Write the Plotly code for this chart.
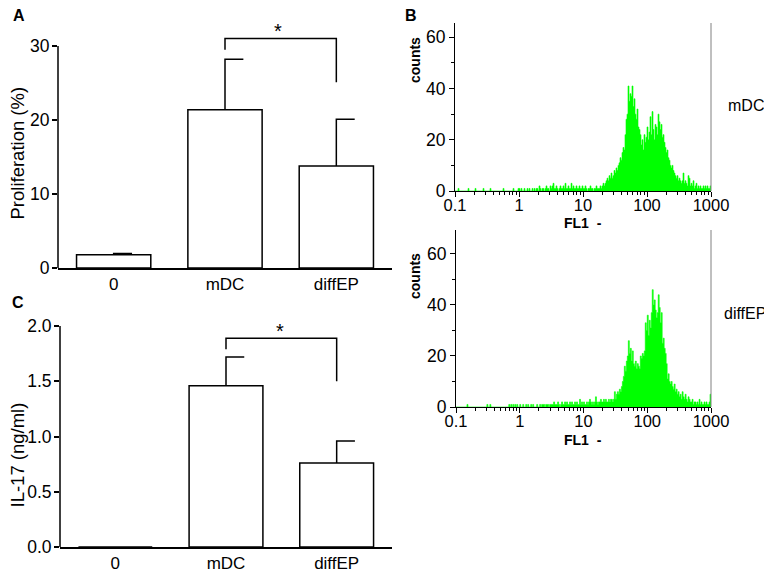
import plotly.graph_objects as go

W, H = 772, 574
PAGE_MARGIN = 8  # the page body offsets the figure by this many pixels
FONT = "Arial, Liberation Sans, sans-serif"
BLACK = "#000000"
GREEN = "#00ff00"

# ── bar panels (A, C) ──
groups = ["0", "mDC", "diffEP"]
prolif_mean = [1.8, 21.4, 13.8]
prolif_err = [0.15, 6.8, 6.3]
il17_mean = [0.0, 1.46, 0.76]
il17_err = [0.0, 0.26, 0.20]

# ── FL1 histograms (B), 256 log channels from 0.1 to 1000 ──
hist_mdc = [
    0, 0, 0, 1, 0, 0, 0, 0, 0, 0, 0, 0, 0, 1, 0, 0,
    0, 0, 0, 0, 1, 0, 0, 0, 0, 0, 0, 0, 1, 0, 0, 0,
    0, 0, 0, 1, 0, 0, 0, 0, 0, 0, 0, 0, 0, 0, 0, 0,
    1, 0, 0, 0, 0, 0, 0, 0, 0, 0, 1, 0, 0, 0, 0, 1,
    1, 0, 1, 0, 0, 1, 0, 0, 1, 0, 1, 0, 0, 1, 0, 1,
    0, 1, 1, 0, 2, 1, 0, 1, 1, 0, 1, 2, 1, 1, 0, 2,
    1, 2, 3, 1, 1, 2, 1, 0, 1, 2, 1, 1, 2, 1, 3, 1,
    1, 2, 1, 1, 3, 1, 2, 1, 1, 2, 1, 1, 2, 1, 1, 2,
    1, 1, 2, 1, 0, 1, 1, 2, 1, 1, 0, 1, 1, 2, 1, 1,
    1, 2, 1, 2, 3, 2, 3, 4, 5, 4, 6, 5, 7, 5, 6, 8,
    7, 9, 8, 10, 11, 13, 12, 15, 17, 16, 22, 28, 30, 41, 35, 38,
    37, 41, 33, 36, 30, 28, 32, 25, 24, 22, 18, 20, 16, 22, 19, 21,
    25, 20, 23, 29, 22, 31, 24, 20, 26, 25, 22, 30, 27, 24, 26, 21,
    22, 19, 17, 15, 16, 13, 12, 10, 9, 10, 8, 7, 6, 5, 6, 4,
    5, 4, 3, 4, 7, 3, 4, 3, 2, 6, 5, 2, 3, 2, 4, 1,
    2, 3, 1, 2, 1, 2, 1, 1, 2, 1, 2, 1, 2, 1, 1, 2,
]
hist_diffep = [
    0, 0, 0, 0, 0, 0, 0, 0, 0, 0, 0, 1, 0, 0, 0, 0,
    0, 0, 0, 0, 0, 0, 0, 0, 0, 0, 0, 0, 0, 0, 0, 1,
    0, 0, 1, 0, 0, 0, 0, 0, 0, 0, 0, 0, 0, 0, 0, 0,
    0, 0, 0, 0, 0, 1, 0, 1, 0, 1, 0, 1, 0, 1, 0, 0,
    1, 0, 0, 1, 0, 0, 1, 0, 1, 0, 0, 1, 0, 1, 0, 0,
    0, 1, 0, 0, 1, 0, 1, 1, 1, 0, 1, 1, 1, 0, 1, 1,
    1, 1, 2, 1, 1, 1, 2, 1, 0, 1, 2, 1, 1, 2, 1, 2,
    1, 1, 2, 1, 2, 1, 1, 2, 1, 2, 1, 1, 3, 1, 2, 1,
    2, 1, 1, 2, 1, 2, 3, 2, 1, 2, 1, 2, 4, 2, 1, 2,
    2, 3, 2, 2, 3, 2, 3, 2, 2, 3, 2, 3, 3, 2, 3, 6,
    3, 5, 6, 5, 7, 6, 8, 10, 12, 16, 14, 18, 20, 26, 21, 23,
    18, 22, 17, 16, 18, 15, 17, 16, 15, 20, 19, 21, 20, 22, 33, 30,
    36, 28, 34, 31, 37, 46, 40, 42, 38, 35, 37, 44, 39, 33, 37, 25,
    27, 23, 21, 17, 11, 13, 10, 9, 10, 8, 7, 9, 6, 7, 5, 6,
    4, 5, 3, 6, 4, 3, 5, 3, 2, 4, 3, 2, 2, 3, 1, 2,
    2, 1, 2, 1, 3, 1, 2, 1, 1, 2, 1, 2, 1, 1, 2, 5,
]
fl1_ticks = [0.1, 1, 10, 100, 1000]
fl1_labels = ["0.1", "1", "10", "100", "1000"]
count_ticks = [0, 20, 40, 60]


def px(x):
    return (x - PAGE_MARGIN) / W


def py(y):
    return 1 - (y - PAGE_MARGIN) / H


def channel_edges(n):
    # log channels spanning the four decades 0.1 .. 1000
    return [10 ** (-1 + 4 * i / n) for i in range(n + 1)]


def err_path(means, errs, cap=0.165):
    # one-sided error bar with a half cap to the right
    xs, ys = [], []
    for i, (m, e) in enumerate(zip(means, errs)):
        if e <= 0:
            continue
        xs += [i, i, i + cap, None]
        ys += [m, m + e, m + e, None]
    return xs, ys


fig = go.Figure()

# panel A
fig.add_trace(go.Bar(
    x=list(range(len(groups))), y=prolif_mean, width=0.667,
    marker=dict(color="white", line=dict(color=BLACK, width=1.5)),
    xaxis="x", yaxis="y",
))
ex, ey = err_path(prolif_mean, prolif_err)
fig.add_trace(go.Scatter(x=ex, y=ey, mode="lines", line=dict(color=BLACK, width=1.5),
                         xaxis="x", yaxis="y"))

# panel C
fig.add_trace(go.Bar(
    x=list(range(len(groups))), y=il17_mean, width=0.667,
    marker=dict(color="white", line=dict(color=BLACK, width=1.5)),
    xaxis="x3", yaxis="y3",
))
ex, ey = err_path(il17_mean, il17_err)
fig.add_trace(go.Scatter(x=ex, y=ey, mode="lines", line=dict(color=BLACK, width=1.5),
                         xaxis="x3", yaxis="y3"))

# panel B histograms
for hist, xa, ya in [(hist_mdc, "x2", "y2"), (hist_diffep, "x4", "y4")]:
    edges = channel_edges(len(hist))
    fig.add_trace(go.Scatter(
        x=edges, y=hist + [hist[-1]], mode="lines", line_shape="hv",
        line=dict(color=GREEN, width=0.6), fill="tozeroy", fillcolor=GREEN,
        xaxis=xa, yaxis=ya,
    ))

bar_x = dict(range=[-0.5, 2.5], tickvals=list(range(len(groups))), ticktext=groups,
             ticks="", showline=True, linecolor=BLACK, linewidth=1.5, automargin=False,
             showgrid=False, zeroline=False, ticklabelstandoff=0,
             tickfont=dict(family=FONT, size=17, color=BLACK))
bar_y = dict(showline=False, ticks="outside", ticklen=5, tickwidth=1.5, tickcolor=BLACK,
             showgrid=False, zeroline=False, automargin=False, ticklabelstandoff=-1,
             tickfont=dict(family=FONT, size=17.5, color=BLACK))

hist_x = dict(type="log", range=[-1, 3], tickvals=fl1_ticks, ticktext=fl1_labels,
              ticks="outside", ticklen=5, tickwidth=1, tickcolor=BLACK,
              minor=dict(tickvals=[m * 10 ** k for k in range(-1, 3) for m in range(2, 10)],
                         ticks="outside", ticklen=3, tickwidth=1, tickcolor=BLACK),
              showline=True, linecolor=BLACK, linewidth=1.2, showgrid=False, zeroline=False,
              automargin=False, ticklabelstandoff=-6,
              tickfont=dict(family=FONT, size=16.5, color=BLACK))
hist_y = dict(tickvals=count_ticks, ticks="outside", ticklen=5, tickwidth=1, tickcolor=BLACK,
              minor=dict(tickvals=[10, 30, 50], ticks="outside", ticklen=3, tickwidth=1,
                         tickcolor=BLACK),
              showline=True, linecolor=BLACK, linewidth=1.2, showgrid=False, zeroline=False,
              automargin=False, tickfont=dict(family=FONT, size=17.5, color=BLACK))

fig.update_layout(
    width=W, height=H,
    margin=dict(l=0, r=0, t=0, b=0, pad=0, autoexpand=False),
    paper_bgcolor="white", plot_bgcolor="white",
    showlegend=False,
    font=dict(family=FONT, color=BLACK),
    xaxis=dict(bar_x, domain=[px(58), px(392)], anchor="y"),
    yaxis=dict(bar_y, domain=[py(268), py(20)], range=[0, 248 / 7.4],
               tickvals=[0, 10, 20, 30], anchor="x"),
    xaxis3=dict(bar_x, domain=[px(60), px(392)], anchor="y3"),
    yaxis3=dict(bar_y, domain=[py(547), py(300)], range=[0, 247 / 110.5],
                tickvals=[0, 0.5, 1.0, 1.5, 2.0], tickformat=".1f", anchor="x3"),
    xaxis2=dict(hist_x, domain=[px(455), px(711)], anchor="y2"),
    yaxis2=dict(hist_y, domain=[py(191), py(23)], range=[0, 65.6], anchor="x2"),
    xaxis4=dict(hist_x, domain=[px(456), px(711)], anchor="y4"),
    yaxis4=dict(hist_y, domain=[py(407), py(230)], range=[0, 69.4], anchor="x4"),
)

# y axis lines of the bar panels stop at the top tick
fig.add_shape(type="line", xref="paper", yref="y", x0=px(58), x1=px(58), y0=0, y1=30,
              line=dict(color=BLACK, width=1.5))
fig.add_shape(type="line", xref="paper", yref="y3", x0=px(60), x1=px(60), y0=0, y1=2.0,
              line=dict(color=BLACK, width=1.5))

# significance brackets
fig.add_shape(type="path", xref="x", yref="y", path="M 1,29.5 L 1,31.0 L 2,31.0 L 2,25.1",
              line=dict(color=BLACK, width=1.5))
fig.add_shape(type="path", xref="x3", yref="y3", path="M 1,1.79 L 1,1.89 L 2,1.89 L 2,1.50",
              line=dict(color=BLACK, width=1.5))

# right border of histograms
for xa, ya in [("x2", "y2"), ("x4", "y4")]:
    fig.add_shape(type="line", xref=f"{xa} domain", yref=f"{ya} domain",
                  x0=1, x1=1, y0=0, y1=1, line=dict(color="#808080", width=1))

ann = [
    dict(text="<b>A</b>", x=px(19), y=py(15), size=16),
    dict(text="<b>B</b>", x=px(411), y=py(15), size=16),
    dict(text="<b>C</b>", x=px(18), y=py(302), size=16),
    dict(text="Proliferation (%)", x=px(16.5), y=py(153), size=18.5, angle=-90),
    dict(text="IL-17 (ng/ml)", x=px(16.5), y=py(455), size=18.5, angle=-90),
    dict(text="<b>counts</b>", x=px(415), y=py(60), size=14, angle=-90),
    dict(text="<b>counts</b>", x=px(415), y=py(276), size=14, angle=-90),
    dict(text="<b>FL1  -</b>", x=px(583), y=py(223), size=14),
    dict(text="<b>FL1  -</b>", x=px(583), y=py(440), size=14),
    dict(text="mDC", x=px(746), y=py(105), size=16),
    dict(text="diffEP", x=px(745), y=py(314), size=16),
    dict(text="*", x=px(278), y=py(31), size=20),
    dict(text="*", x=px(280), y=py(331), size=20),
]
for a in ann:
    fig.add_annotation(
        text=a["text"], x=a["x"], y=a["y"], xref="paper", yref="paper",
        showarrow=False, textangle=a.get("angle", 0),
        xanchor="center", yanchor="middle",
        font=dict(family=FONT, size=a["size"], color=BLACK),
    )

fig.write_html("out.html")
